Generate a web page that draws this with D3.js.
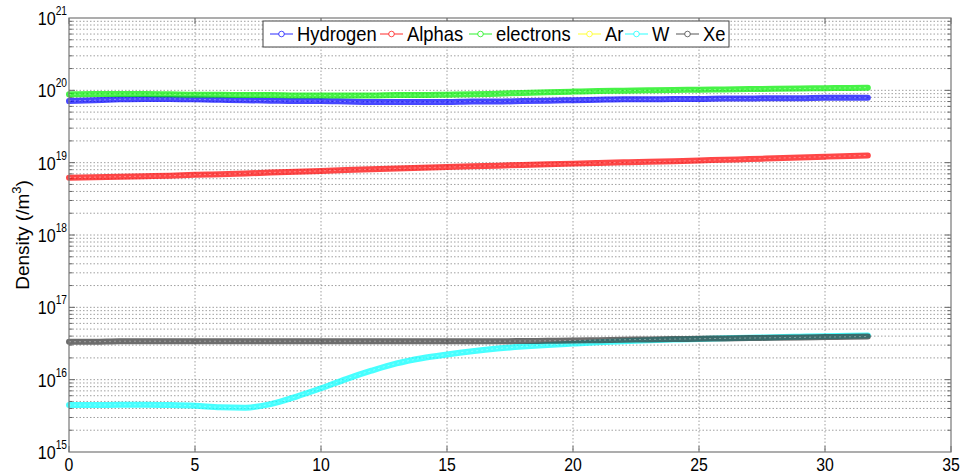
<!DOCTYPE html>
<html><head><meta charset="utf-8">
<script src="https://cdn.jsdelivr.net/npm/d3@7"></script>
<style>
html,body{margin:0;padding:0;background:#fff;}
text{font-family:"Liberation Sans",Arial,sans-serif;fill:#000;}
</style></head>
<body><svg id="c" width="965" height="475"></svg>
<script>
// ---- data ----
const xs = [0,1,2,3,4,5,6,7,8,9,10,11,12,13,14,15,16,17,18,19,20,21,22,23,24,25,26,27,28,29,30,31,31.7];
const hydrogen = [7.1,7.3,7.5,7.6,7.6,7.5,7.4,7.3,7.2,7.1,7.1,7.0,6.9,6.9,6.9,6.9,7.0,7.0,7.1,7.2,7.3,7.4,7.5,7.5,7.6,7.6,7.7,7.7,7.8,7.8,7.9,7.9,7.9].map(v=>v*1e19);
const alphas = [6.2,6.3,6.4,6.5,6.6,6.8,6.9,7.1,7.3,7.5,7.7,7.9,8.1,8.3,8.5,8.7,8.9,9.1,9.3,9.5,9.7,9.9,10.1,10.3,10.5,10.7,11.0,11.2,11.5,11.8,12.1,12.4,12.6].map(v=>v*1e18);
const electrons = [8.8,8.9,8.9,8.9,8.8,8.7,8.7,8.6,8.6,8.5,8.5,8.5,8.5,8.6,8.6,8.7,8.8,9.0,9.2,9.4,9.6,9.8,9.9,10.0,10.1,10.2,10.3,10.4,10.5,10.6,10.7,10.8,10.9].map(v=>v*1e19);
const argon = []; // not visible in the plot
const tungsten = [4.45,4.45,4.5,4.5,4.45,4.35,4.15,4.1,4.6,5.8,7.6,10.2,13.3,16.8,19.8,22.3,24.7,26.9,28.7,30.2,31.5,32.8,34.0,35.0,35.8,36.6,37.3,38.0,38.7,39.3,39.9,40.4,40.7].map(v=>v*1e15);
const xenon = [3.35,3.35,3.4,3.4,3.4,3.4,3.4,3.4,3.4,3.4,3.4,3.4,3.4,3.4,3.4,3.4,3.4,3.4,3.42,3.45,3.48,3.52,3.56,3.6,3.64,3.68,3.72,3.76,3.8,3.84,3.88,3.92,3.95].map(v=>v*1e16);
const seriesNames = ["Hydrogen","Alphas","electrons","Ar","W","Xe"];
const seriesValues = [hydrogen, alphas, electrons, argon, tungsten, xenon];
const seriesColors = ["#0000ff","#ff0000","#00ee00","#ffff00","#00ffff","#333333"];
const xTicks = [0,5,10,15,20,25,30,35];
const yTickExps = [15,16,17,18,19,20,21];

// ---- layout ----
const L=69, R=951, T=18, B=452;
const svg = d3.select("#c");
const x = d3.scaleLinear().domain([0,35]).range([L,R]);
const y = d3.scaleLog().domain([1e15,1e21]).range([B,T]);

// grid
const grid = svg.append("g").attr("stroke","#888").attr("stroke-width",0.8).attr("stroke-dasharray","1.5,2");
xTicks.filter(t=>t>0&&t<35).forEach(t=>{
  grid.append("line").attr("x1",x(t)).attr("x2",x(t)).attr("y1",T).attr("y2",B);
});
const minorVals=[];
for(let e=15;e<21;e++) for(let m=1;m<=9;m++){ if(!(e===15&&m===1)) minorVals.push(m*Math.pow(10,e)); }
minorVals.forEach(v=>{
  grid.append("line").attr("x1",L).attr("x2",R).attr("y1",y(v)).attr("y2",y(v));
});

// ticks
const tk = svg.append("g").attr("stroke","#666").attr("stroke-width",1);
xTicks.forEach(t=>{
  tk.append("line").attr("x1",x(t)).attr("x2",x(t)).attr("y1",B).attr("y2",B-6);
  tk.append("line").attr("x1",x(t)).attr("x2",x(t)).attr("y1",T).attr("y2",T+6);
});
minorVals.forEach(v=>{
  const isMajor = Math.abs(Math.log10(v)-Math.round(Math.log10(v)))<1e-9;
  const len = isMajor?6:3.5;
  tk.append("line").attr("x1",L).attr("x2",L+len).attr("y1",y(v)).attr("y2",y(v));
  tk.append("line").attr("x1",R).attr("x2",R-len).attr("y1",y(v)).attr("y2",y(v));
});

// lines
const line = d3.line().x((d,i)=>x(xs[i])).y(d=>y(d)).curve(d3.curveMonotoneX);
seriesValues.forEach((vals,k)=>{
  if(!vals.length) return;
  svg.append("path").attr("d",line(vals)).attr("fill","none")
    .attr("stroke",seriesColors[k]).attr("stroke-width",6).attr("stroke-linecap","round")
    .attr("stroke-opacity",0.72);
  svg.append("path").attr("d",line(vals)).attr("fill","none")
    .attr("stroke","#fff").attr("stroke-width",1).attr("stroke-dasharray","2,3")
    .attr("stroke-opacity",0.35);
});

// axes box
svg.append("rect").attr("x",L).attr("y",T).attr("width",R-L).attr("height",B-T)
  .attr("fill","none").attr("stroke","#777").attr("stroke-width",1.2);

// x tick labels
xTicks.forEach(t=>{
  svg.append("text").attr("transform",`translate(${x(t)},471) scale(0.88,1)`).attr("text-anchor","middle")
    .attr("font-size",18).text(t);
});
// y tick labels
yTickExps.forEach(e=>{
  const tx = svg.append("text").attr("transform",`translate(67,${y(Math.pow(10,e))+7}) scale(0.85,1)`).attr("text-anchor","end")
    .attr("font-size",19);
  tx.append("tspan").text("10");
  tx.append("tspan").attr("dy",-10).attr("font-size",12).text(e);
});
// y label
const yl = svg.append("text").attr("transform","translate(29,235) rotate(-90)")
  .attr("text-anchor","middle").attr("font-size",19);
yl.append("tspan").text("Density (/m");
yl.append("tspan").attr("dy",-8).attr("font-size",13).text("3");
yl.append("tspan").attr("dy",8).text(")");

// legend
const lg = svg.append("g");
lg.append("rect").attr("x",263).attr("y",21).attr("width",466).attr("height",26)
  .attr("fill","#fff").attr("stroke","#444").attr("stroke-width",1);
const legX = [270,380,469,578,625,676];
seriesNames.forEach((n,k)=>{
  const cx = legX[k];
  lg.append("line").attr("x1",cx).attr("x2",cx+23).attr("y1",34).attr("y2",34)
    .attr("stroke",seriesColors[k]).attr("stroke-opacity",0.7).attr("stroke-width",1.2);
  lg.append("circle").attr("cx",cx+11.5).attr("cy",34).attr("r",2.8).attr("fill","#fff")
    .attr("stroke",seriesColors[k]).attr("stroke-opacity",0.7).attr("stroke-width",1);
  lg.append("text").attr("transform",`translate(${cx+27},41) scale(0.92,1)`).attr("font-size",20).text(n);
});
</script></body></html>
